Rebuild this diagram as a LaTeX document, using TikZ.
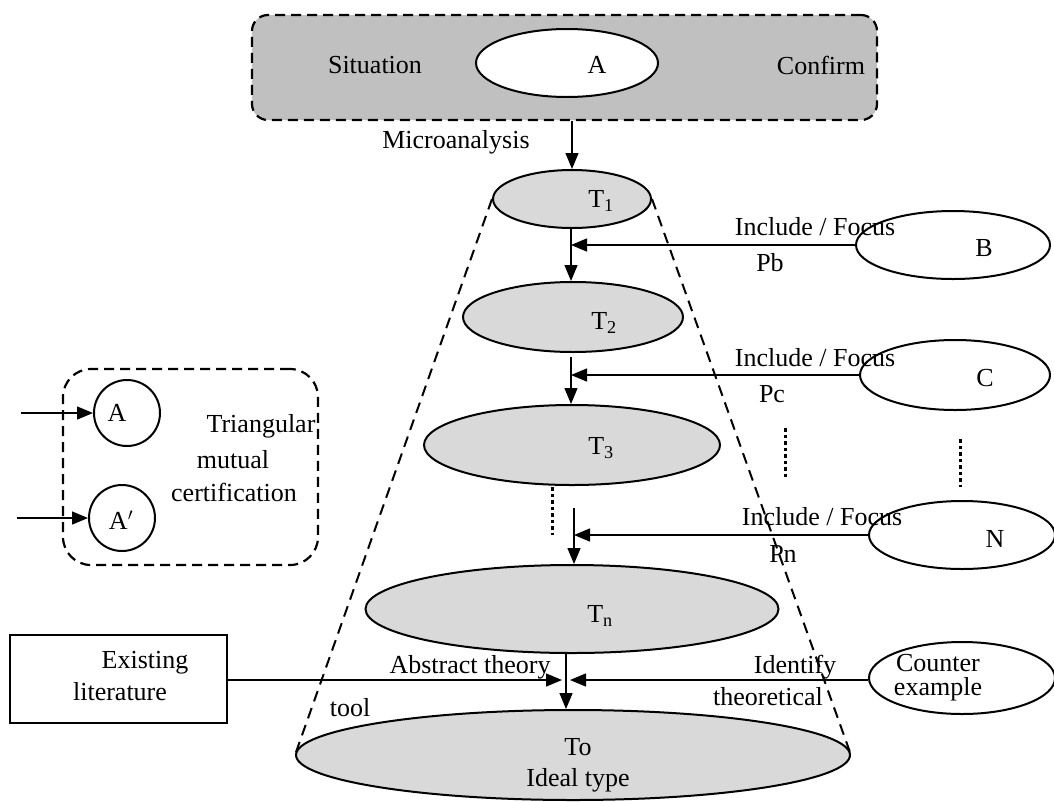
\documentclass[tikz,border=0pt]{standalone}
\usepackage{fontspec}
\setmainfont{Liberation Serif}
\usetikzlibrary{arrows.meta,shapes.geometric}
\begin{document}
\begin{tikzpicture}[x=1pt,y=-1pt,
  font=\fontsize{26}{30}\selectfont,
  txt/.style={inner sep=0pt, anchor=center},
  ellnode/.style={ellipse, draw, line width=2pt, inner sep=0pt},
  tell/.style={ellnode, fill=tgray},
  circnode/.style={circle, draw, line width=2pt, inner sep=0pt, minimum size=66pt},
  dbox/.style={draw, line width=2.2pt, dash pattern=on 10pt off 6pt, rounded corners=#1},
  arr/.style={line width=1.4pt, -{Triangle[length=16pt,width=13pt]}},
  dotline/.style={line width=3pt, dash pattern=on 3.5pt off 3pt},
  cone/.style={line width=2pt, dash pattern=on 11pt off 7pt}
]
\definecolor{tgray}{HTML}{D9D9D9}
\definecolor{bgray}{HTML}{C0C0C0}
\useasboundingbox (0,0) rectangle (1054,801);

% top box
\node[dbox=16pt, fill=bgray, minimum width=625pt, minimum height=105pt, inner sep=0pt] (top) at (564.5,67.5) {};
\node[ellnode, fill=white, minimum width=182pt, minimum height=68pt] (ea) at (567,63) {};
\node[txt] (eal) at (597,65) {A};
\node[txt] (sit) at (375,65) {Situation};
\node[txt] (conf) at (821,65) {Confirm};
\node[txt] (micro) at (456,142) {Microanalysis};

% T ellipses
\node[tell, minimum width=158pt, minimum height=58pt] (t1) at (572,199) {};
\node[tell, minimum width=220pt, minimum height=70pt] (t2) at (573,317) {};
\node[tell, minimum width=296pt, minimum height=80pt] (t3) at (572,445) {};
\node[tell, minimum width=413pt, minimum height=88pt] (tn) at (572,609) {};
\node[tell, minimum width=554pt, minimum height=90pt] (to) at (573,755) {};

% cone
\draw[cone] (t1.west) -- (to.west);
\draw[cone] (t1.east) -- (to.east);

\node[txt] (t1l) at (601,201) {T\textsubscript{1}};
\node[txt] (t2l) at (604,323) {T\textsubscript{2}};
\node[txt] (t3l) at (601,448) {T\textsubscript{3}};
\node[txt] (tnl) at (600,616) {T\textsubscript{n}};
\node[txt] (tol) at (578,747) {To};
\node[txt] (ideal) at (578,780) {Ideal type};

% right ellipses
\node[ellnode, minimum width=194pt, minimum height=68pt] (b) at (953,245) {};
\node[txt] (bl) at (984,248) {B};
\node[ellnode, minimum width=190pt, minimum height=70pt] (c) at (955,375) {};
\node[txt] (cl) at (985,378) {C};
\node[ellnode, minimum width=186pt, minimum height=68pt] (n) at (962,535) {};
\node[txt] (nl) at (995,539) {N};
\node[ellnode, minimum width=186pt, minimum height=72pt] (ce) at (962,678) {};
\node[txt, align=center, font=\fontsize{26}{24}\selectfont] (cel) at (938,678) {Counter\\example};

% vertical arrows
\draw[arr] (top.south -| t1.north) -- (t1.north);
\coordinate (s1) at (571,228);
\draw[arr] (s1) -- (s1 |- t2.north);
\coordinate (s2) at (571,357);
\draw[arr] (s2) -- (s2 |- t3.north);
\coordinate (s3) at (574,508);
\draw[arr] (s3) -- (s3 |- tn.north);
\coordinate (s4) at (566,652);
\draw[arr] (s4) -- (s4 |- to.north);

% horizontal arrows
\draw[arr] (b.west) -- (b.west -| s1);
\draw[arr] (c.west) -- (c.west -| s2);
\draw[arr] (n.west) -- (n.west -| s3);

\node[txt] (if1) at (815,227) {Include / Focus};
\node[txt] (pb) at (770,263) {Pb};
\node[txt] (if2) at (815,358) {Include / Focus};
\node[txt] (pc) at (772,394) {Pc};
\node[txt] (if3) at (822,517) {Include / Focus};
\node[txt] (pn) at (783,554) {Pn};

% dotted
\coordinate (d1a) at (785,428); \coordinate (d1b) at (785,477);
\coordinate (d2a) at (960,439); \coordinate (d2b) at (960,487);
\coordinate (d3a) at (552,487); \coordinate (d3b) at (552,535);
\draw[dotline] (d1a) -- (d1b);
\draw[dotline] (d2a) -- (d2b);
\draw[dotline] (d3a) -- (d3b);

% bottom
\node[draw, line width=2pt, minimum width=217pt, minimum height=88pt, inner sep=0pt] (lit) at (118.5,679) {};
\node[txt] (ex) at (145,663) {Existing};
\node[txt] (litl) at (120,692) {literature};
\coordinate (m1) at (562,680);
\coordinate (m2) at (570,680);
\draw[arr] (lit.east |- m1) -- (m1);
\draw[arr] (ce.west |- m2) -- (m2);
\node[txt] (abs) at (470,667) {Abstract theory};
\node[txt] (tool) at (350,708) {tool};
\node[txt] (ident) at (795,667) {Identify};
\node[txt] (theo) at (768,697) {theoretical};

% left box
\node[dbox=28pt, minimum width=255pt, minimum height=196pt, inner sep=0pt] (lbox) at (190.5,467) {};
\node[circnode] (ca) at (127,413) {};
\node[txt] (cal) at (117,413) {A};
\node[circnode] (cb) at (122,518) {};
\node[txt] (cbl) at (121,520) {A$'$};
\coordinate (ia) at (21,413);
\coordinate (ib) at (17,518);
\draw[arr] (ia) -- (ca.west);
\draw[arr] (ib) -- (cb.west);
\node[txt] (tri) at (261,426) {Triangular};
\node[txt] (mut) at (233,460) {mutual};
\node[txt] (cert) at (234,492) {certification};
\end{tikzpicture}
\end{document}
